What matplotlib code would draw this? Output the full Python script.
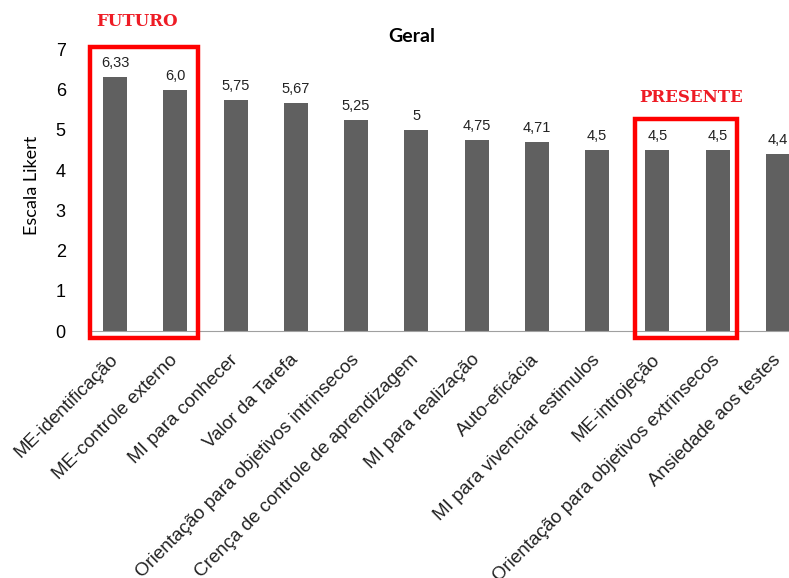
import matplotlib
matplotlib.use('Agg')
import matplotlib.pyplot as plt
from matplotlib.patches import Rectangle

# motivation scales, sorted by mean score
categorias = ['ME-identificação', 'ME-controle externo', 'MI para conhecer', 'Valor da Tarefa',
              'Orientação para objetivos intrinsecos', 'Crença de controle de aprendizagem',
              'MI para realização', 'Auto-eficácia', 'MI para vivenciar estimulos',
              'ME-introjeção', 'Orientação para objetivos extrinsecos', 'Ansiedade aos testes']
rotulos = ['6,33', '6,0', '5,75', '5,67', '5,25', '5', '4,75', '4,71', '4,5', '4,5', '4,5', '4,4']
medias = [float(r.replace(',', '.')) for r in rotulos]
y_ticks = [0, 1, 2, 3, 4, 5, 6, 7]

W, H = 789, 578
fig = plt.figure(figsize=(W / 100, H / 100), dpi=100)
ax = fig.add_axes([88 / W, (H - 331) / H, 723 / W, 281.4 / H])

x = list(range(len(categorias)))
ax.bar(x, medias, width=0.4, color='#606060', zorder=2)
for xi, v, r in zip(x, medias, rotulos):
    ax.annotate(r, (xi, v), xytext=(0, 5), textcoords='offset points', ha='center', va='bottom',
                fontsize=10.5, family='Liberation Sans', color='#222222')

ax.set_xlim(-0.45, 11.55)
ax.set_ylim(0, 7)
ax.set_yticks(y_ticks)
ax.set_yticklabels([str(t) for t in y_ticks], fontsize=13, family='Liberation Sans')
ax.set_xticks(x)
ax.set_xticklabels(categorias, rotation=45, ha='right', va='center', rotation_mode='anchor',
                   fontsize=13.5, family='Liberation Sans', color='#222222')
ax.tick_params(axis='y', length=0, pad=16)
ax.tick_params(axis='x', length=0, pad=19)
for s in ['top', 'right']:
    ax.spines[s].set_visible(False)
ax.spines['left'].set_color('#a0a0a0')
ax.spines['bottom'].set_color('#a0a0a0')

# red boxes around the two groups
ax.add_patch(Rectangle((-0.41, -0.17), 1.79, 7.23, fill=False, edgecolor='#ff0000', lw=3.2,
                       clip_on=False, zorder=3))
ax.add_patch(Rectangle((8.63, -0.17), 1.69, 5.44, fill=False, edgecolor='#ff0000', lw=3.2,
                       clip_on=False, zorder=3))
ax.text(0.37, 7.69, 'FUTURO', color='#ee1c25', fontsize=12, family='DejaVu Serif', weight='bold',
        ha='center', va='center', clip_on=False)
ax.text(9.56, 5.82, 'PRESENTE', color='#ee1c25', fontsize=12, family='DejaVu Serif', weight='bold',
        ha='center', va='center', clip_on=False)

fig.text(412 / W, 1 - 37 / H, 'Geral', fontsize=14, family='Lato', weight='bold', ha='center', va='center')
fig.text(32 / W, 1 - 185 / H, 'Escala Likert', fontsize=13, family='Lato', rotation=90,
         ha='center', va='center')

fig.savefig('out.png', dpi=100)
